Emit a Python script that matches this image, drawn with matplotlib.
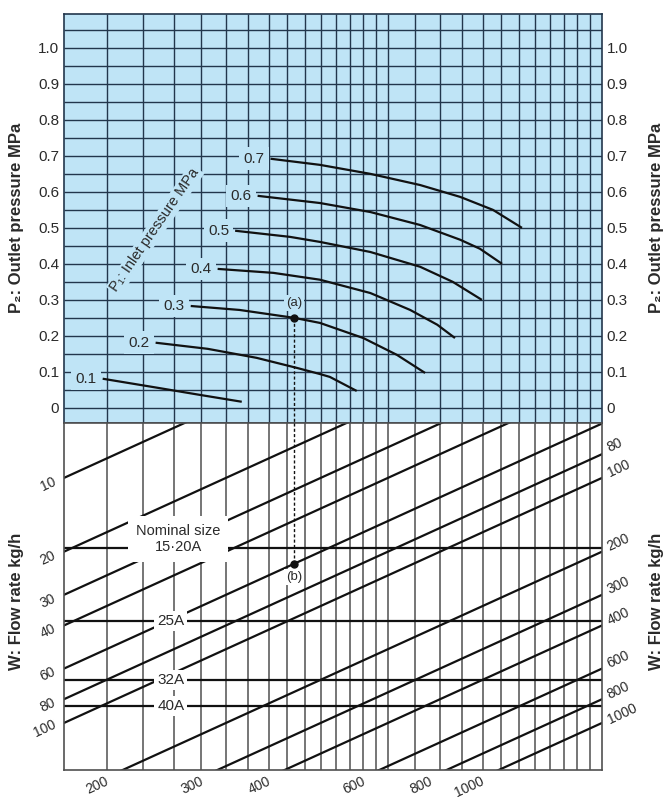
"""
Steam pressure reducing valve sizing chart
==========================================
Upper part: inlet pressure P1 curves drawn on an outlet pressure P2 grid.
Lower part: flow rate W diagonals crossed by the nominal size lines.
Both parts share the same horizontal log scale (flow factor M, 1..10),
so a point on a P1 curve drops straight down onto the flow diagonals.
"""

import matplotlib.pyplot as plt

FIG_W, FIG_H, DPI = 669, 800, 100

BLUE = "#bfe4f6"
GRID_TOP = "#22364c"
GRID_BOTTOM = "#505050"
INK = "#111111"
TEXT = "#2a2a2a"
FONT = ["Liberation Sans", "DejaVu Sans"]

# pixel frame of the two panels
X_LEFT, X_RIGHT = 64, 602
Y_TOP, Y_SPLIT, Y_BOTTOM = 14, 423, 770

# shared horizontal scale and its vertical grid lines
M_RANGE = (1.0, 10.0)
M_GRID = [1.2, 1.4, 1.6, 1.8, 2.0, 2.2, 2.4, 2.6, 2.8, 3.0, 3.2, 3.4, 3.6,
          3.8, 4.0, 4.5, 5.0, 5.5, 6.0, 6.5, 7.0, 7.5, 8.0, 8.5, 9.0, 9.5]

# upper part: outlet pressure P2 (MPa)
P2_RANGE = (-0.042, 1.094)
P2_GRID = [0.0, 0.05, 0.1, 0.15, 0.2, 0.25, 0.3, 0.35, 0.4, 0.45, 0.5,
           0.55, 0.6, 0.65, 0.7, 0.75, 0.8, 0.85, 0.9, 0.95, 1.0, 1.05]
P2_TICKS = [0.0, 0.1, 0.2, 0.3, 0.4, 0.5, 0.6, 0.7, 0.8, 0.9, 1.0]
P2_TICK_LABELS = ["0", "0.1", "0.2", "0.3", "0.4", "0.5", "0.6", "0.7",
                  "0.8", "0.9", "1.0"]

# inlet pressure curves as (M, P2)
P1_LABELS = ["0.1", "0.2", "0.3", "0.4", "0.5", "0.6", "0.7"]
P1_01_M = [1.18, 1.49, 1.79, 2.14]
P1_01_P2 = [0.081, 0.056, 0.036, 0.017]
P1_02_M = [1.48, 1.85, 2.28, 2.71, 2.99, 3.12, 3.50]
P1_02_P2 = [0.181, 0.164, 0.139, 0.111, 0.094, 0.086, 0.047]
P1_03_M = [1.72, 2.12, 2.68, 2.99, 3.60, 4.16, 4.69]
P1_03_P2 = [0.283, 0.272, 0.250, 0.236, 0.194, 0.147, 0.097]
P1_04_M = [1.93, 2.45, 2.99, 3.71, 4.40, 4.94, 5.33]
P1_04_P2 = [0.386, 0.375, 0.356, 0.319, 0.272, 0.231, 0.194]
P1_05_M = [2.08, 2.63, 2.99, 3.71, 4.59, 5.28, 5.98]
P1_05_P2 = [0.492, 0.475, 0.461, 0.433, 0.392, 0.350, 0.300]
P1_06_M = [2.29, 2.99, 3.71, 4.59, 5.45, 5.93, 6.52]
P1_06_P2 = [0.589, 0.569, 0.544, 0.508, 0.467, 0.442, 0.400]
P1_07_M = [2.42, 2.99, 3.71, 4.59, 5.45, 6.27, 7.10]
P1_07_P2 = [0.692, 0.675, 0.650, 0.619, 0.586, 0.550, 0.500]

# worked example: point (a) on the 0.3 curve, point (b) on the W=60 line
EXAMPLE_M = 2.68
EXAMPLE_P2 = 0.25
EXAMPLE_W = 60

# lower part: size coefficient K (log, grows downwards), W = K * M
K_RANGE = (155.6, 5.97)
FLOW_W = [10, 20, 30, 40, 60, 80, 100, 200, 300, 400, 600, 800, 1000]
FLOW_LEFT = [10, 20, 30, 40, 60, 80, 100]
FLOW_RIGHT = [80, 100, 200, 300, 400, 600, 800, 1000]
FLOW_BOTTOM = [200, 300, 400, 600, 800, 1000]
SIZE_NAMES = ["15·20A", "25A", "32A", "40A"]
SIZE_K = [19.3, 38.3, 66.8, 85.2]
SIZE_LABEL_M = 1.58


def px_rect(x0, x1, y0, y1):
    """Pixel box (top-left origin) -> figure fraction rect for add_axes."""
    return [x0 / FIG_W, 1 - y1 / FIG_H, (x1 - x0) / FIG_W, (y1 - y0) / FIG_H]


def bare_log_x(ax, spine_color):
    ax.set_xscale("log")
    ax.set_xlim(*M_RANGE)
    ax.tick_params(axis="x", which="both", bottom=False, labelbottom=False)
    for spine in ax.spines.values():
        spine.set_color(spine_color)
        spine.set_linewidth(1.2)


def draw_upper(ax):
    ax.set_facecolor(BLUE)
    bare_log_x(ax, GRID_TOP)
    ax.set_ylim(*P2_RANGE)

    ax.vlines(M_GRID, 0, 1, transform=ax.get_xaxis_transform(),
              color=GRID_TOP, lw=1.0, zorder=1)
    ax.hlines(P2_GRID, 0, 1, transform=ax.get_yaxis_transform(),
              color=GRID_TOP, lw=1.0, zorder=1)

    ax.set_yticks(P2_TICKS, P2_TICK_LABELS)
    ax.tick_params(axis="y", length=0, pad=3.5, labelsize=11,
                   labelcolor=TEXT, labelright=True)

    curves = [(P1_01_M, P1_01_P2), (P1_02_M, P1_02_P2), (P1_03_M, P1_03_P2),
              (P1_04_M, P1_04_P2), (P1_05_M, P1_05_P2), (P1_06_M, P1_06_P2),
              (P1_07_M, P1_07_P2)]
    blue_box = dict(boxstyle="square,pad=0.28", fc=BLUE, ec="none")
    for label, (m, p2) in zip(P1_LABELS, curves):
        ax.plot(m, p2, color=INK, lw=1.6, solid_capstyle="butt",
                solid_joinstyle="round", zorder=3)
        ax.annotate(label, xy=(m[0], p2[0]), xytext=(-6, 0),
                    textcoords="offset pixels", ha="right", va="center",
                    fontsize=11, color=TEXT, bbox=blue_box, zorder=4)

    ax.text(1.476, 0.494, "P₁: Inlet pressure MPa", rotation=55.5,
            rotation_mode="anchor", ha="center", va="center",
            fontsize=10.5, color=TEXT, zorder=4,
            bbox=dict(boxstyle="square,pad=0.12", fc=BLUE, ec="none"))

    # example point (a) and the dashed drop line
    ax.plot([EXAMPLE_M, EXAMPLE_M], [EXAMPLE_P2, P2_RANGE[0]],
            ls=(0, (2.2, 1.6)), lw=1.0, color=INK, zorder=3)
    ax.plot(EXAMPLE_M, EXAMPLE_P2, "o", ms=5, color=INK, zorder=5)
    ax.annotate("(a)", xy=(EXAMPLE_M, EXAMPLE_P2), xytext=(0, 15),
                textcoords="offset pixels", ha="center", va="center",
                fontsize=9.5, color=TEXT, zorder=4,
                bbox=dict(boxstyle="square,pad=0.15", fc=BLUE, ec="none"))


def draw_lower(ax):
    ax.set_facecolor("white")
    bare_log_x(ax, GRID_BOTTOM)
    ax.set_yscale("log")
    ax.set_ylim(*K_RANGE)
    ax.tick_params(axis="y", which="both", left=False, labelleft=False)

    ax.vlines(M_GRID, 0, 1, transform=ax.get_xaxis_transform(),
              color=GRID_BOTTOM, lw=1.1, zorder=1)

    # flow rate diagonals: K = W / M
    for w in FLOW_W:
        ax.plot(M_RANGE, [w / M_RANGE[0], w / M_RANGE[1]],
                color=INK, lw=1.6, zorder=2)

    label_style = dict(textcoords="offset pixels", rotation=25,
                       fontsize=10, color=TEXT, annotation_clip=False)
    for w in FLOW_LEFT:
        ax.annotate(str(w), xy=(M_RANGE[0], w), xytext=(-6, -6),
                    ha="right", va="center", **label_style)
    for w in FLOW_RIGHT:
        ax.annotate(str(w), xy=(M_RANGE[1], w / M_RANGE[1]), xytext=(3, 9),
                    ha="left", va="center", **label_style)
    for w in FLOW_BOTTOM:
        ax.annotate(str(w), xy=(w / K_RANGE[0], K_RANGE[0]), xytext=(-12, -4),
                    ha="right", va="top", **label_style)

    # nominal size lines
    for name, k in zip(SIZE_NAMES, SIZE_K):
        ax.axhline(k, color=INK, lw=1.6, zorder=2)
        if name == SIZE_NAMES[0]:
            ax.annotate("Nominal size\n" + name, xy=(1.63, k), xytext=(0, 9),
                        textcoords="offset pixels", ha="center", va="center",
                        multialignment="center", linespacing=1.2,
                        fontsize=10.5, color=TEXT, zorder=4,
                        bbox=dict(boxstyle="square,pad=0.55", fc="white",
                                  ec="none"))
        else:
            ax.text(SIZE_LABEL_M, k, name, ha="center", va="center",
                    fontsize=11, color=TEXT, zorder=4,
                    bbox=dict(boxstyle="square,pad=0.2", fc="white",
                              ec="none"))

    # example point (b)
    k_b = EXAMPLE_W / EXAMPLE_M
    ax.plot([EXAMPLE_M, EXAMPLE_M], [K_RANGE[1], k_b],
            ls=(0, (2.2, 1.6)), lw=1.0, color=INK, zorder=3)
    ax.plot(EXAMPLE_M, k_b, "o", ms=5, color=INK, zorder=5)
    ax.annotate("(b)", xy=(EXAMPLE_M, k_b), xytext=(0, -13),
                textcoords="offset pixels", ha="center", va="center",
                fontsize=9.5, color=TEXT, zorder=4,
                bbox=dict(boxstyle="square,pad=0.15", fc="white", ec="none"))


def main():
    plt.rcParams["font.family"] = FONT

    fig = plt.figure(figsize=(FIG_W / DPI, FIG_H / DPI), dpi=DPI)
    ax_top = fig.add_axes(px_rect(X_LEFT, X_RIGHT, Y_TOP, Y_SPLIT))
    ax_bot = fig.add_axes(px_rect(X_LEFT, X_RIGHT, Y_SPLIT, Y_BOTTOM))

    draw_upper(ax_top)
    draw_lower(ax_bot)

    axis_label = dict(rotation=90, ha="center", va="center", fontsize=12,
                      fontweight="bold", color=TEXT)
    for x_px in (17, 656):
        fig.text(x_px / FIG_W, 1 - 218 / FIG_H, "P₂: Outlet pressure MPa",
                 **axis_label)
        fig.text(x_px / FIG_W, 1 - 601 / FIG_H, "W: Flow rate kg/h",
                 **axis_label)

    fig.savefig("out.png", dpi=DPI)
    plt.close(fig)


if __name__ == "__main__":
    main()
